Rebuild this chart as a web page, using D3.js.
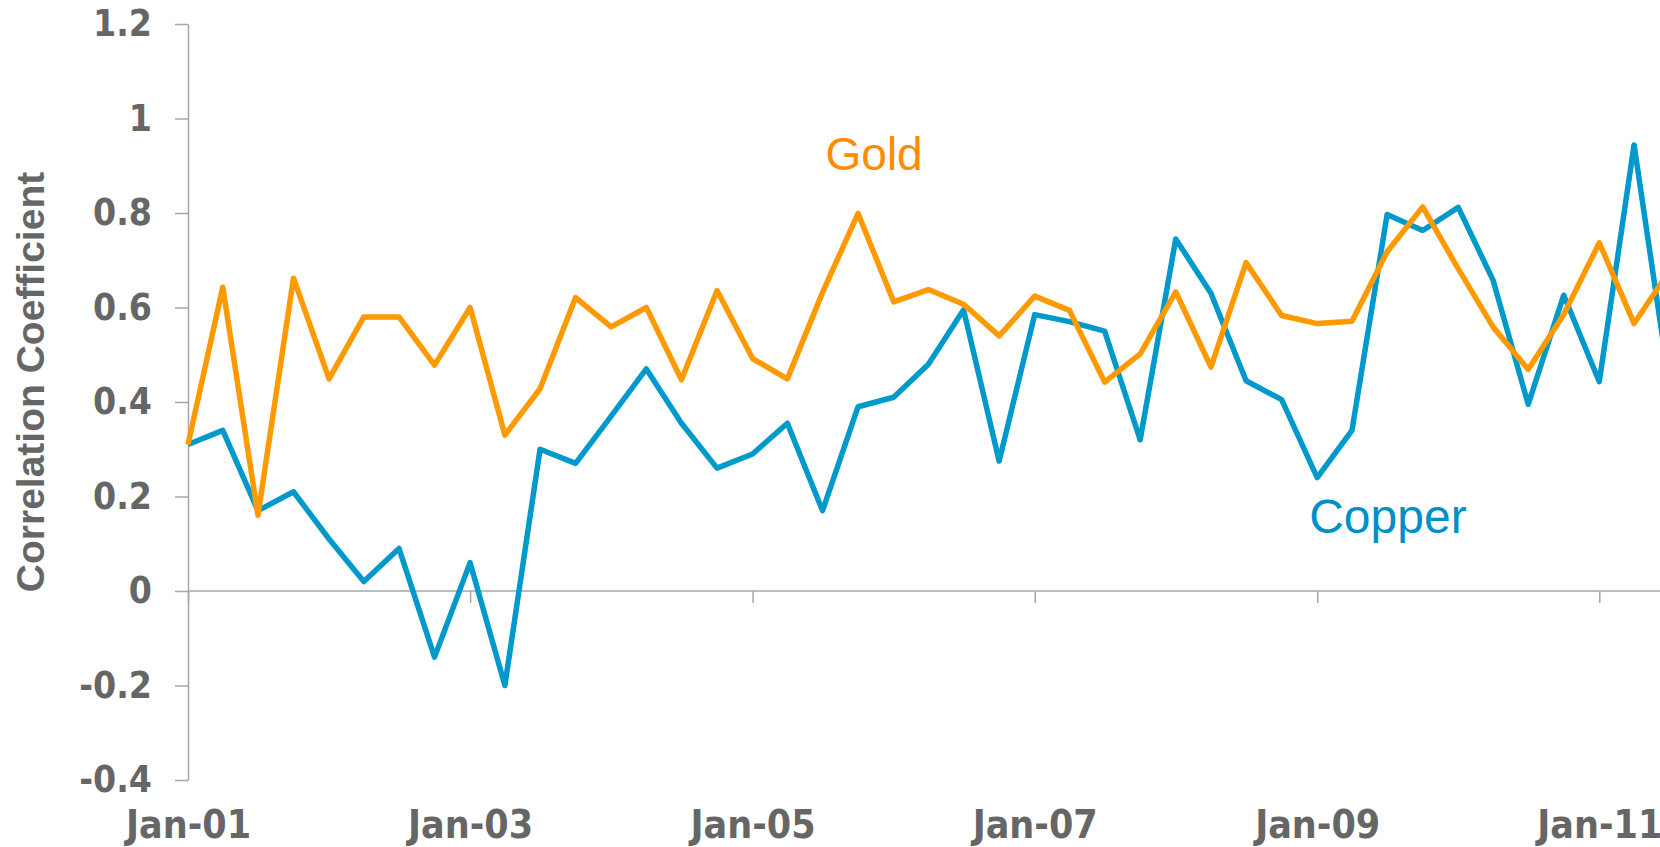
<!DOCTYPE html>
<html>
<head>
<meta charset="utf-8">
<script src="https://cdn.jsdelivr.net/npm/d3@7"></script>
<style>
  body { margin: 0; background: #fff; overflow: hidden; }
  .tick-label { font-family: 'DejaVu Sans Condensed', 'DejaVu Sans', sans-serif; font-stretch: condensed; font-weight: bold; fill: #666; }
</style>
</head>
<body>
<svg id="chart" width="1660" height="847"></svg>
<script>
// Quarterly observations, Jan-01 onwards
const quarters = [
  '2001-01', '2001-04', '2001-07', '2001-10',
  '2002-01', '2002-04', '2002-07', '2002-10',
  '2003-01', '2003-04', '2003-07', '2003-10',
  '2004-01', '2004-04', '2004-07', '2004-10',
  '2005-01', '2005-04', '2005-07', '2005-10',
  '2006-01', '2006-04', '2006-07', '2006-10',
  '2007-01', '2007-04', '2007-07', '2007-10',
  '2008-01', '2008-04', '2008-07', '2008-10',
  '2009-01', '2009-04', '2009-07', '2009-10',
  '2010-01', '2010-04', '2010-07', '2010-10',
  '2011-01', '2011-04', '2011-07'
];

const copper = [
  0.31, 0.34, 0.17, 0.21, 0.11, 0.02, 0.09, -0.14,
  0.06, -0.20, 0.30, 0.27, 0.37, 0.47, 0.355, 0.26,
  0.29, 0.355, 0.17, 0.39, 0.41, 0.48, 0.595, 0.275,
  0.585, 0.57, 0.55, 0.32, 0.745, 0.63, 0.445, 0.405,
  0.24, 0.34, 0.797, 0.763, 0.812, 0.658, 0.395, 0.626,
  0.443, 0.944, 0.44
];

const gold = [
  0.31, 0.643, 0.16, 0.662, 0.449, 0.58, 0.58, 0.478,
  0.60, 0.33, 0.428, 0.621, 0.559, 0.60, 0.447, 0.636,
  0.492, 0.449, 0.632, 0.799, 0.612, 0.638, 0.607, 0.54,
  0.624, 0.594, 0.442, 0.502, 0.633, 0.474, 0.695, 0.583,
  0.566, 0.571, 0.718, 0.813, 0.682, 0.559, 0.469, 0.585,
  0.737, 0.566, 0.677
];

const yTicks = [-0.4, -0.2, 0, 0.2, 0.4, 0.6, 0.8, 1, 1.2];
const xTickYears = ['2001', '2003', '2005', '2007', '2009', '2011'];

const parse = d3.timeParse('%Y-%m');
const svg = d3.select('#chart');

const x = d3.scaleTime()
  .domain([parse('2001-01'), parse('2011-01')])
  .range([188, 1599.3]);

const y = d3.scaleLinear()
  .domain([-0.4, 1.2])
  .range([780, 24]);

const xTickDates = xTickYears.map(yr => parse(yr + '-01'));

// y axis
const yAxis = svg.append('g')
  .attr('transform', `translate(${x.range()[0]},0)`)
  .call(d3.axisLeft(y)
    .tickValues(yTicks)
    .tickSize(13)
    .tickSizeOuter(0)
    .tickPadding(23)
    .tickFormat(d => String(+d.toFixed(1))));

yAxis.select('.domain').attr('stroke', '#a6a6a6').attr('stroke-width', 1.5);
yAxis.selectAll('.tick line').attr('stroke', '#a6a6a6').attr('stroke-width', 1.5);
yAxis.selectAll('.tick text')
  .attr('class', 'tick-label')
  .style('font-size', '37px');

// x axis line at zero with tick marks
const xAxis = svg.append('g')
  .attr('transform', `translate(0,${y(0)})`)
  .call(d3.axisBottom(x)
    .tickValues(xTickDates)
    .tickSize(12)
    .tickSizeOuter(0)
    .tickFormat(''));

xAxis.select('.domain')
  .attr('d', `M${x.range()[0]},0H1660`)
  .attr('stroke', '#a6a6a6').attr('stroke-width', 1.5);
xAxis.selectAll('.tick line').attr('stroke', '#a6a6a6').attr('stroke-width', 1.5);

// x labels at bottom of plot
const xLabels = svg.append('g')
  .attr('transform', `translate(0,${y(-0.4)})`)
  .call(d3.axisBottom(x)
    .tickValues(xTickDates)
    .tickSize(0)
    .tickPadding(30)
    .tickFormat(d3.timeFormat('%b-%y')));

xLabels.select('.domain').remove();
xLabels.selectAll('.tick text')
  .attr('class', 'tick-label')
  .style('font-size', '39px');

// axis title
svg.append('text')
  .attr('transform', `translate(44,${(y(1.2) + y(-0.4)) / 2 - 20}) rotate(-90)`)
  .attr('text-anchor', 'middle')
  .style('font-family', "'Liberation Sans', Arial, sans-serif")
  .style('font-weight', 'bold')
  .style('font-size', '39px')
  .style('fill', '#666')
  .text('Correlation Coefficient');

// lines
const line = d3.line()
  .x((d, i) => x(parse(quarters[i])))
  .y(d => y(d));

svg.append('path')
  .datum(copper)
  .attr('fill', 'none')
  .attr('stroke', '#0099cc')
  .attr('stroke-width', 5.5)
  .attr('stroke-linejoin', 'round')
  .attr('d', line);

svg.append('path')
  .datum(gold)
  .attr('fill', 'none')
  .attr('stroke', '#ff9900')
  .attr('stroke-width', 5.5)
  .attr('stroke-linejoin', 'round')
  .attr('d', line);

// series labels
svg.append('text')
  .attr('x', x(parse('2005-07')) + 3)
  .attr('y', y(0.89))
  .style('font-family', "'Liberation Sans', Arial, sans-serif")
  .style('font-size', '46px')
  .style('fill', '#ff8c00')
  .text('Gold');

svg.append('text')
  .attr('x', x(parse('2008-12')) + 4)
  .attr('y', y(0.122))
  .style('font-family', "'Liberation Sans', Arial, sans-serif")
  .style('font-size', '48px')
  .style('fill', '#008fc8')
  .text('Copper');
</script>
</body>
</html>
